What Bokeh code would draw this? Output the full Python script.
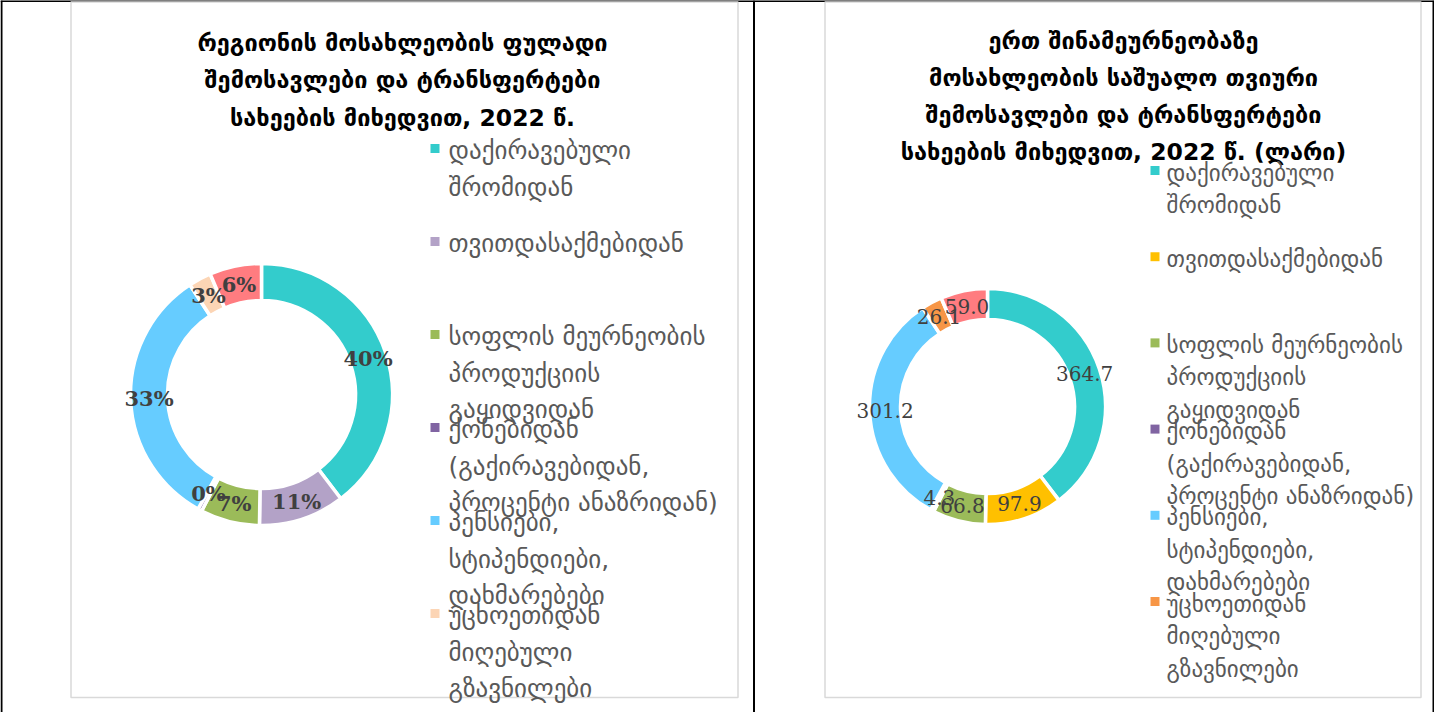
import math
from bokeh.plotting import figure
from bokeh.models import Range1d
from bokeh.core.properties import value
from bokeh.embed import file_html
from bokeh.resources import INLINE

# ---------------- data ----------------
categories = [
    "დაქირავებული\nშრომიდან",
    "თვითდასაქმებიდან",
    "სოფლის მეურნეობის\nპროდუქციის\nგაყიდვიდან",
    "ქონებიდან\n(გაქირავებიდან,\nპროცენტი ანაზრიდან)",
    "პენსიები,\nსტიპენდიები,\nდახმარებები",
    "უცხოეთიდან\nმიღებული\nგზავნილები",
]
categories_right = categories + []
categories_left = categories[:3] + categories[3:]

# left chart: shares (%)
left_shares = [39.6, 10.6, 7.3, 0.5, 32.7, 2.8, 6.4]
left_labels = ["40%", "11%", "7%", "0%", "33%", "3%", "6%"]
left_colors = ["#33CCCC", "#B3A2C7", "#9BBB59", "#8064A2", "#66CCFF", "#FCD5B5", "#FF7C80"]
left_legend_colors = left_colors[:6]

# right chart: GEL per household per month
right_values = [364.7, 97.9, 66.8, 4.3, 301.2, 26.1, 59.0]
right_labels = ["364.7", "97.9", "66.8", "4.3", "301.2", "26.1", "59.0"]
right_colors = ["#33CCCC", "#FFC000", "#9BBB59", "#8064A2", "#66CCFF", "#F79646", "#FF7C80"]
right_legend_colors = right_colors[:4] + right_colors[4:5] + right_colors[5:6]

left_title = ["რეგიონის მოსახლეობის ფულადი", "შემოსავლები და ტრანსფერტები", "სახეების მიხედვით, 2022 წ."]
right_title = ["ერთ შინამეურნეობაზე", "მოსახლეობის საშუალო თვიური", "შემოსავლები და ტრანსფერტები",
               "სახეების მიხედვით, 2022 წ. (ლარი)"]

# ---------------- layout ----------------
W, H = 1434, 712
TOP = 720


def Y(sy):
    return TOP - sy


p = figure(width=W, height=H, output_backend="svg", toolbar_location=None,
           x_range=Range1d(8, 8 + W), y_range=Range1d(0, H), min_border=0)
p.axis.visible = False
p.grid.visible = False
p.outline_line_color = None
p.background_fill_color = "white"
p.border_fill_color = "white"

# table borders (black)
p.segment(x0=[8, 9, 761.5, 1441], y0=[Y(8.5), Y(8), Y(8), Y(8)],
          x1=[1442, 9, 761.5, 1441], y1=[Y(8.5), Y(730), Y(730), Y(730)],
          line_color="black", line_width=2)
# chart area borders (light gray)
p.quad(left=[78.5, 832.5], right=[745.5, 1428.5], top=[Y(9.5), Y(9.5)], bottom=[Y(705), Y(705)],
       fill_alpha=0, line_color="#D9D9D9", line_width=1.5)

FONT = "DejaVu Sans"
SERIF = "DejaVu Serif"


def donut(cx, cy, r_out, r_in, vals, colors, labels, bold, fsize):
    total = float(sum(vals))
    cum = 0.0
    starts, ends, lx, ly = [], [], [], []
    for v in vals:
        a0 = math.pi / 2 - 2 * math.pi * cum / total
        cum += v
        a1 = math.pi / 2 - 2 * math.pi * cum / total
        starts.append(a0)
        ends.append(a1)
        mid = (a0 + a1) / 2
        rm = (r_out + r_in) / 2
        lx.append(cx + rm * math.cos(mid))
        ly.append(Y(cy) + rm * math.sin(mid))
    p.annular_wedge(x=[cx] * len(vals), y=[Y(cy)] * len(vals), inner_radius=r_in, outer_radius=r_out,
                    start_angle=starts, end_angle=ends, direction="clock",
                    fill_color=colors, line_color="white", line_width=3.5)
    p.text(x=lx, y=ly, text=labels, text_align="center", text_baseline="middle",
           text_font=value(SERIF), text_font_size=f"{fsize}px", text_color="#404040",
           text_font_style="bold" if bold else "normal")


def legend(x_marker, x_text, y0, step, line_gap, cats, colors, fsize, msize):
    mx, my = [], []
    tx, ty, tt = [], [], []
    for i, (c, col) in enumerate(zip(cats, colors)):
        ym = y0 + i * step
        mx.append(x_marker)
        my.append(Y(ym))
        for j, line in enumerate(c.split("\n")):
            tx.append(x_text)
            ty.append(Y(ym + 2 + j * line_gap))
            tt.append(line)
    p.rect(x=mx, y=my, width=msize, height=msize, fill_color=colors, line_color=None)
    p.text(x=tx, y=ty, text=tt, text_align="left", text_baseline="middle",
           text_font=value(FONT), text_font_size=f"{fsize}px", text_color="#595959")


def title(cx, y0, lines, fsize, gap):
    p.text(x=[cx] * len(lines), y=[Y(y0 + i * gap) for i in range(len(lines))], text=lines,
           text_align="center", text_baseline="middle", text_font=value(FONT),
           text_font_size=f"{fsize}px", text_font_style="bold", text_color="black")


# left chart
title(410, 50, left_title, 23.5, 37.5)
donut(269, 402, 131, 94, left_shares, left_colors, left_labels, True, 21)
legend(442.5, 456, 156, 93, 36.5, categories_left, left_legend_colors, 25, 9)

# right chart
title(1131, 48, right_title, 23.5, 37.3)
donut(995, 414, 118, 87, right_values, right_colors, right_labels, False, 20)
legend(1162.5, 1174, 178, 86.2, 32.5, categories_right, right_legend_colors, 23, 9)

open("out.html", "w").write(file_html(p, INLINE))
